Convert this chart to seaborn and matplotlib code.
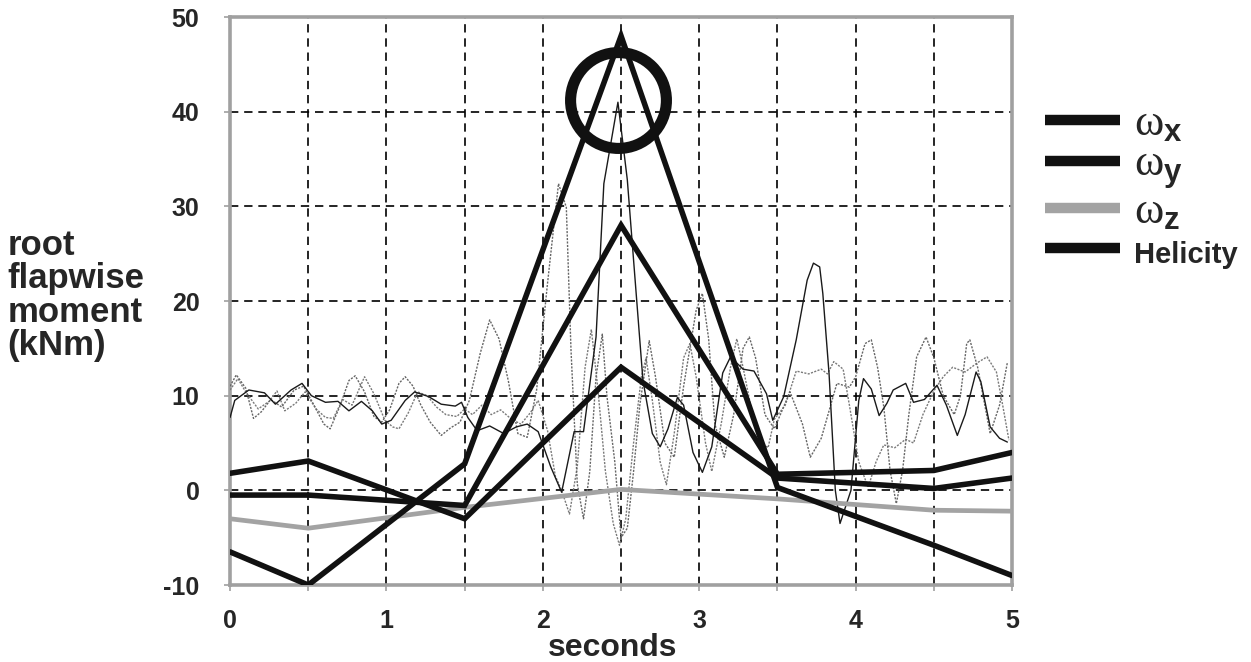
import matplotlib
matplotlib.use("Agg")
import matplotlib.pyplot as plt
import seaborn as sns
import pandas as pd
from matplotlib.lines import Line2D

# Summary quantities evaluated at window centres (s)
win_t = [0, 0.5, 1.5, 2.5, 3.5, 4.5, 5]
omega_x = [1.8, 3.1, -3.0, 13.0, 1.3, 0.2, 1.3]
omega_y = [-0.5, -0.5, -1.6, 28.0, 1.7, 2.1, 4.0]
omega_z = [-3.0, -4.0, -1.8, 0.1, -0.9, -2.1, -2.2]
helicity = [-6.5, -10.0, 2.8, 48.0, 0.3, -5.8, -9.0]

# Root flapwise moment traces (time s, moment kNm)
moment_a = [(0.00, 7.7), (0.03, 9.5), (0.12, 10.6), (0.22, 10.3), (0.29, 9.1), (0.39, 10.6),
            (0.46, 11.3), (0.52, 10.0), (0.61, 9.3), (0.69, 9.4), (0.76, 8.4), (0.84, 9.4),
            (0.91, 8.4), (0.97, 7.0), (1.03, 7.4), (1.12, 9.5), (1.18, 10.4), (1.27, 9.9),
            (1.35, 9.1), (1.44, 8.9), (1.48, 9.3), (1.52, 7.7), (1.58, 6.3), (1.66, 6.8),
            (1.75, 6.0), (1.83, 6.7), (1.90, 7.0), (1.97, 6.2), (2.05, 2.5), (2.12, -0.2),
            (2.20, 6.2), (2.26, 6.2), (2.34, 16.2), (2.39, 32.4), (2.48, 41.0), (2.54, 32.8),
            (2.64, 11.6), (2.70, 6.0), (2.75, 4.6), (2.80, 6.5), (2.86, 9.8), (2.90, 9.0),
            (2.96, 4.0), (3.02, 1.9), (3.08, 4.6), (3.15, 12.4), (3.20, 14.1), (3.28, 12.8),
            (3.35, 12.6), (3.43, 10.2), (3.47, 7.4), (3.54, 9.9), (3.62, 15.9), (3.69, 22.2),
            (3.73, 24.0), (3.77, 23.6), (3.79, 20.8), (3.83, 12.3), (3.87, 0.0), (3.90, -3.5),
            (3.97, 0.0), (4.02, 9.5), (4.05, 11.8), (4.10, 10.7), (4.15, 7.9), (4.20, 9.2),
            (4.24, 10.6), (4.32, 11.3), (4.37, 9.3), (4.44, 9.6), (4.52, 11.1), (4.58, 9.0),
            (4.65, 5.8), (4.70, 8.0), (4.77, 12.5), (4.80, 11.5), (4.86, 6.7), (4.92, 5.5),
            (4.97, 5.1)]

moment_b = [(0.00, 11.0), (0.04, 12.2), (0.10, 10.8), (0.15, 7.6), (0.20, 8.3), (0.26, 9.6),
            (0.33, 8.8), (0.41, 10.6), (0.47, 11.0), (0.53, 9.2), (0.60, 7.0), (0.64, 6.5),
            (0.70, 8.8), (0.76, 11.6), (0.80, 12.1), (0.86, 10.4), (0.92, 7.8), (0.97, 7.2),
            (1.02, 8.5), (1.08, 11.3), (1.12, 12.0), (1.17, 11.0), (1.22, 9.0), (1.28, 7.2),
            (1.35, 5.8), (1.41, 6.6), (1.47, 7.2), (1.53, 9.5), (1.60, 14.5), (1.66, 18.0),
            (1.72, 16.0), (1.78, 11.5), (1.84, 6.0), (1.90, 5.6), (1.96, 10.6), (2.03, 21.9),
            (2.10, 32.4), (2.15, 29.9), (2.18, 14.8), (2.22, 0.7), (2.26, -3.0), (2.30, 2.0),
            (2.34, 12.0), (2.38, 16.5), (2.41, 9.9), (2.46, 3.0), (2.50, -5.0), (2.54, -4.0),
            (2.58, 2.0), (2.62, 9.0), (2.68, 15.8), (2.72, 12.0), (2.78, 5.0), (2.84, 3.5),
            (2.90, 11.0), (2.98, 19.0), (3.02, 20.8), (3.06, 16.0), (3.10, 7.0), (3.16, 3.5),
            (3.22, 8.0), (3.28, 15.0), (3.32, 16.2), (3.36, 14.0), (3.42, 8.0), (3.48, 6.5),
            (3.58, 10.4), (3.66, 7.0), (3.71, 3.5), (3.78, 5.5), (3.88, 11.3), (3.96, 10.9),
            (4.00, 12.0), (4.06, 15.5), (4.10, 15.9), (4.14, 13.0), (4.18, 8.8), (4.22, 2.1),
            (4.26, -1.4), (4.30, 2.1), (4.34, 8.0), (4.39, 14.1), (4.45, 16.2), (4.50, 14.0),
            (4.56, 10.0), (4.63, 8.0), (4.67, 10.0), (4.71, 15.5), (4.73, 15.9), (4.78, 13.0),
            (4.86, 6.0), (4.92, 9.0), (4.97, 13.5)]

moment_c = [(0.00, 10.6), (0.05, 11.8), (0.10, 10.4), (0.18, 8.6), (0.25, 9.4), (0.30, 10.5),
            (0.35, 8.4), (0.42, 9.2), (0.48, 10.4), (0.55, 8.6), (0.61, 7.7), (0.66, 7.6),
            (0.72, 9.6), (0.78, 9.0), (0.86, 12.0), (0.92, 10.2), (0.99, 7.4), (1.04, 6.7),
            (1.08, 6.5), (1.14, 8.2), (1.20, 10.4), (1.26, 10.0), (1.32, 8.8), (1.38, 8.0),
            (1.45, 7.8), (1.50, 8.6), (1.55, 8.0), (1.61, 9.0), (1.67, 8.0), (1.73, 8.5),
            (1.80, 7.5), (1.86, 7.0), (1.92, 8.2), (1.97, 9.5), (2.03, 6.3), (2.08, 1.5),
            (2.12, 0.0), (2.17, -2.5), (2.22, 2.5), (2.27, 13.0), (2.31, 17.0), (2.35, 11.0),
            (2.40, 2.0), (2.45, -3.5), (2.49, -5.8), (2.53, -3.0), (2.58, 5.0), (2.63, 12.0),
            (2.66, 14.0), (2.70, 9.5), (2.75, 3.0), (2.79, 0.6), (2.84, 6.0), (2.90, 14.0),
            (2.94, 15.5), (2.98, 12.0), (3.04, 5.0), (3.08, 2.0), (3.14, 7.0), (3.20, 13.0),
            (3.24, 16.0), (3.28, 13.0), (3.34, 8.0), (3.40, 5.0), (3.44, 4.5), (3.48, 7.5),
            (3.55, 9.0), (3.62, 12.6), (3.70, 12.3), (3.78, 12.8), (3.82, 12.3), (3.86, 13.6),
            (3.92, 12.8), (3.96, 9.0), (4.02, 3.0), (4.08, 0.3), (4.13, 3.0), (4.18, 4.8),
            (4.25, 4.5), (4.32, 5.4), (4.37, 5.0), (4.43, 8.0), (4.50, 10.5), (4.56, 12.0),
            (4.62, 13.0), (4.70, 12.5), (4.78, 13.5), (4.84, 14.1), (4.90, 12.5), (4.94, 9.0),
            (4.98, 5.3)]

# Highlighted peak
peak_t, peak_y = 2.48, 41.2

x_ticks = [0, 1, 2, 3, 4, 5]
y_ticks = [-10, 0, 10, 20, 30, 40, 50]
legend_labels = [r"$\mathrm{\omega}_{\mathbf{x}}$", r"$\mathrm{\omega}_{\mathbf{y}}$",
                 r"$\mathrm{\omega}_{\mathbf{z}}$", "Helicity"]

sns.set_theme(style="white")
plt.rcParams["font.family"] = ["Liberation Sans", "DejaVu Sans"]
plt.rcParams["mathtext.fontset"] = "custom"
plt.rcParams["mathtext.rm"] = "Liberation Serif"
plt.rcParams["mathtext.bf"] = "Liberation Sans:bold"
plt.rcParams["mathtext.it"] = "Liberation Serif:italic"

fig = plt.figure(figsize=(12.51, 6.62), dpi=100)
ax = fig.add_axes([0.1839, 0.1163, 0.8090 - 0.1839, 0.9743 - 0.1163])

BLACK = "#111111"
ZGRAY = "#a3a3a3"
FRAME = "#a0a0a0"

# thin moment traces
for trace, col, ls, lw in [(moment_c, "#7a7a7a", (0, (1.5, 1.0)), 1.0),
                           (moment_b, "#666666", (0, (1.5, 1.0)), 1.0),
                           (moment_a, "#1a1a1a", "-", 1.0)]:
    df = pd.DataFrame(trace, columns=["t", "m"])
    sns.lineplot(data=df, x="t", y="m", ax=ax, color=col, lw=lw, linestyle=ls,
                 sort=False, estimator=None, zorder=3)

# window summaries
summ = pd.DataFrame({"t": win_t, "wx": omega_x, "wy": omega_y, "wz": omega_z, "h": helicity})
sns.lineplot(data=summ, x="t", y="wz", ax=ax, color=ZGRAY, lw=3.4, zorder=4,
             estimator=None, sort=False)
for col in ["wx", "wy", "h"]:
    sns.lineplot(data=summ, x="t", y=col, ax=ax, color=BLACK, lw=4.0, zorder=5,
                 estimator=None, sort=False, solid_joinstyle="miter")

# circled peak
ax.plot([peak_t], [peak_y], marker="o", ms=69, mfc="none", mec=BLACK, mew=8.0, zorder=6)

ax.set_xlim(0, 5)
ax.set_ylim(-10, 50)
ax.set_xticks(x_ticks)
ax.set_xticks([0.5, 1.5, 2.5, 3.5, 4.5], minor=True)
ax.set_yticks(y_ticks)
ax.set_xticklabels([str(v) for v in x_ticks], fontsize=18, fontweight="bold")
ax.set_yticklabels([str(v) for v in y_ticks], fontsize=18, fontweight="bold")
ax.tick_params(axis="both", which="both", direction="out", length=4, width=1.2,
               color=FRAME, bottom=True, left=True)
ax.tick_params(axis="x", which="major", pad=13)
ax.tick_params(axis="y", which="major", pad=18)

ax.grid(True, which="both", axis="x", color="black", linestyle=(0, (5, 3.5)), lw=1.2)
ax.grid(True, which="major", axis="y", color="black", linestyle=(0, (5, 3.5)), lw=1.2)
ax.set_axisbelow(True)
for sp in ax.spines.values():
    sp.set_visible(True)
    sp.set_color(FRAME)
    sp.set_linewidth(2.6)

ax.set_xlabel("seconds", fontsize=23, fontweight="bold", va="center")
ax.xaxis.set_label_coords(0.489, -0.111)
ax.set_ylabel("root\nflapwise\nmoment\n(kNm)", fontsize=25, fontweight="bold",
              rotation=0, ha="left", va="center", linespacing=1.02)
ax.yaxis.set_label_coords(-0.285, 0.51)

handles = [Line2D([], [], color=BLACK, lw=7.5, solid_capstyle="butt"),
           Line2D([], [], color=BLACK, lw=7.5, solid_capstyle="butt"),
           Line2D([], [], color=ZGRAY, lw=7.5, solid_capstyle="butt"),
           Line2D([], [], color=BLACK, lw=7.5, solid_capstyle="butt")]
leg = ax.legend(handles, legend_labels, loc="upper left", bbox_to_anchor=(1.042, 0.848),
                frameon=False, fontsize=32, handlelength=1.7, handletextpad=0.3,
                labelspacing=0.0, borderaxespad=0, borderpad=0)
leg.get_texts()[3].set_fontsize(21)
leg.get_texts()[3].set_fontweight("bold")

fig.savefig("out.png", dpi=100, facecolor="white")
